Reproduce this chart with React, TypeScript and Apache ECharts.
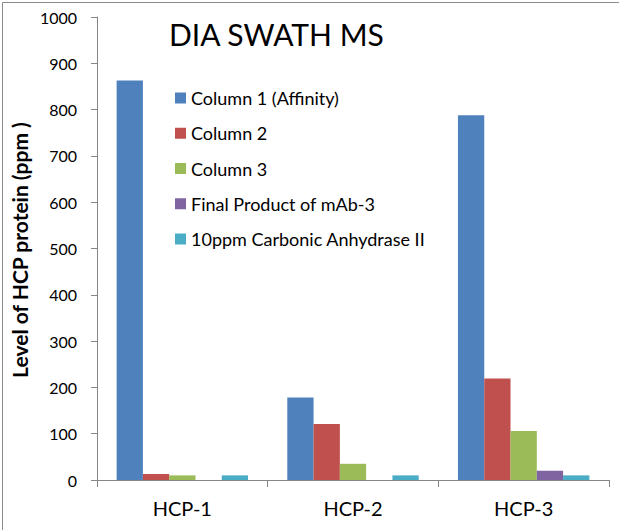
import React, { useEffect, useRef } from "react";
import * as echarts from "echarts";

const categories = ["HCP-1", "HCP-2", "HCP-3"];
const seriesNames = [
  "Column 1 (Affinity)",
  "Column 2",
  "Column 3",
  "Final Product of mAb-3",
  "10ppm Carbonic Anhydrase II",
];
const column1 = [863, 178, 788];
const column2 = [13, 121, 219];
const column3 = [10, 35, 106];
const finalProduct = [0, 0, 20];
const carbonic = [10, 10, 10];
const yTicks = [0, 100, 200, 300, 400, 500, 600, 700, 800, 900, 1000];

const colors = ["#4F81BD", "#C0504D", "#9BBB59", "#8064A2", "#4BACC6"];
const FONT = "Lato, 'Open Sans', sans-serif";

export default function App() {
  const ref = useRef<HTMLDivElement>(null);
  useEffect(() => {
    document.body.style.margin = "0";
    const chart = echarts.init(ref.current!, null, { renderer: "svg" });
    const data = [column1, column2, column3, finalProduct, carbonic];
    chart.setOption({
      animation: false,
      backgroundColor: "#ffffff",
      textStyle: { fontFamily: FONT },
      grid: { left: 97, right: 10, top: 17, bottom: 50 },
      legend: {
        orient: "vertical",
        left: 175,
        top: 88,
        padding: 0,
        icon: "rect",
        itemWidth: 11,
        itemHeight: 11,
        itemGap: 15.25,
        data: seriesNames,
        textStyle: { fontFamily: FONT, fontSize: 18, color: "#000", lineHeight: 20 },
      },
      xAxis: {
        type: "category",
        data: categories,
        axisLine: { lineStyle: { color: "#868686", width: 1 } },
        axisTick: { show: true, length: 7, lineStyle: { color: "#868686" } },
        axisLabel: { fontSize: 20, color: "#000", margin: 18, fontFamily: FONT },
      },
      yAxis: {
        type: "value",
        min: 0,
        max: 1000,
        interval: 100,
        splitLine: { show: false },
        axisLine: { show: true, lineStyle: { color: "#868686", width: 1 } },
        axisTick: { show: true, length: 6, lineStyle: { color: "#868686" } },
        axisLabel: {
          fontSize: 16,
          color: "#000",
          margin: 20,
          fontFamily: FONT,
          formatter: (v: number) => (yTicks.includes(v) ? String(v) : ""),
        },
      },
      series: seriesNames.map((name, i) => ({
        name,
        type: "bar",
        data: data[i],
        barGap: "0%",
        barCategoryGap: "23%",
        itemStyle: { color: colors[i] },
      })),
      graphic: [
        {
          type: "rect",
          left: 0,
          top: 0,
          shape: { x: 0.5, y: 0.5, width: 617, height: 528 },
          style: { fill: "none", stroke: "#8a8a8a", lineWidth: 1 },
          silent: true,
        },
        {
          type: "text",
          x: 169,
          y: 34,
          style: {
            text: "DIA SWATH MS",
            fontSize: 30,
            fontFamily: FONT,
            fill: "#000",
            textAlign: "left",
            textVerticalAlign: "middle",
          },
        },
        {
          type: "text",
          x: 19,
          y: 250,
          rotation: Math.PI / 2,
          style: {
            text: "Level of HCP protein (ppm )",
            fontSize: 21,
            fontWeight: "bold",
            fontFamily: FONT,
            fill: "#000",
            textAlign: "center",
            textVerticalAlign: "middle",
          },
        },
      ],
    });
    return () => chart.dispose();
  }, []);
  return <div ref={ref} style={{ width: 619, height: 530 }} />;
}
